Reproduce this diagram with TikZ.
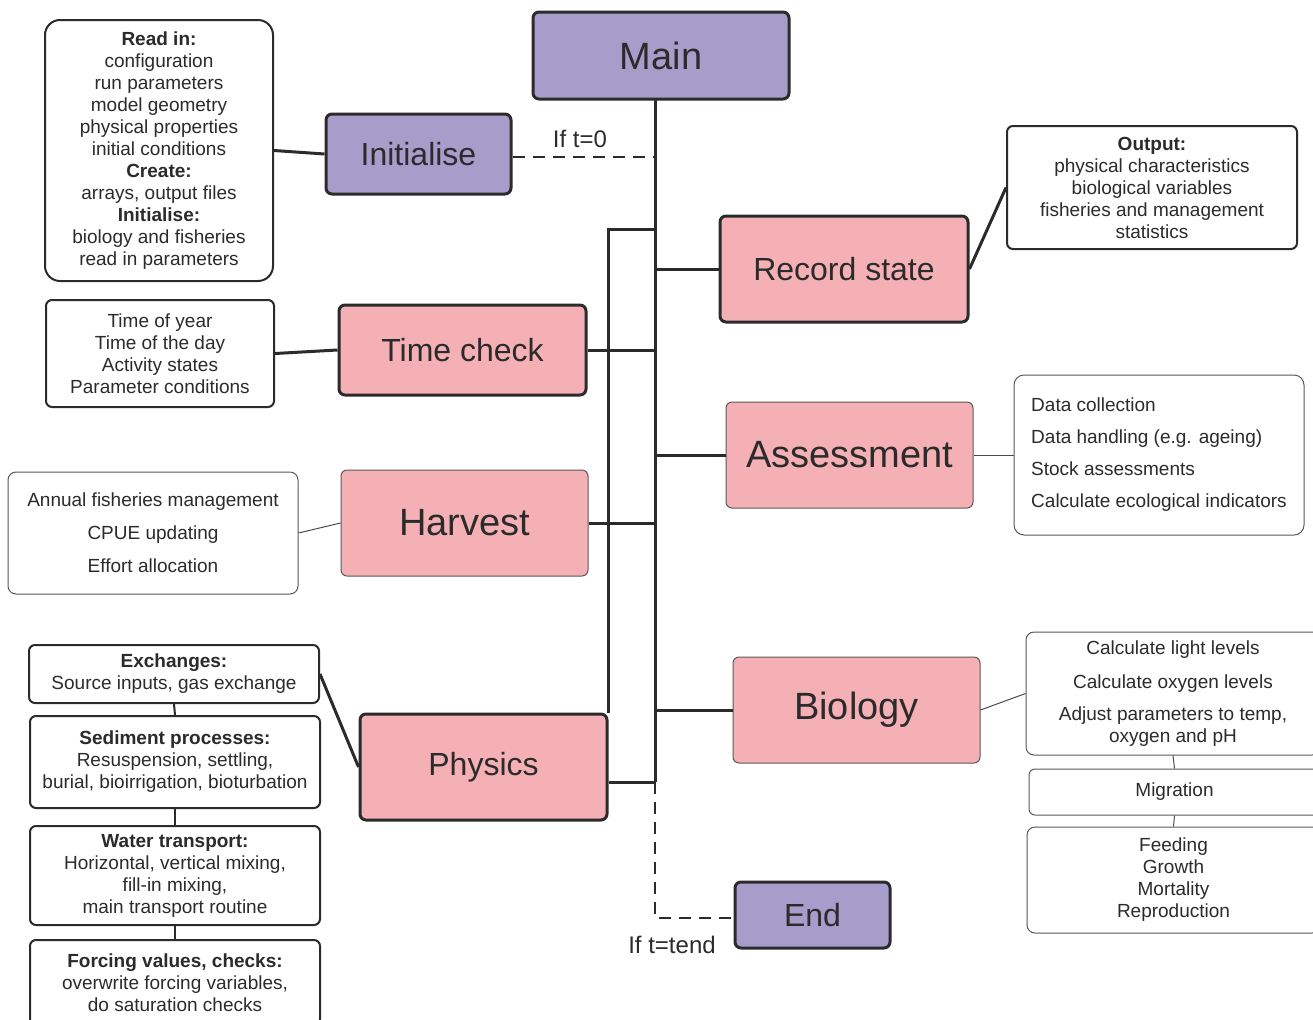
\documentclass[tikz,border=0pt]{standalone}
\usepackage{fontspec}
\setmainfont{Liberation Sans}
\usepackage{xcolor}
\usetikzlibrary{positioning,calc}

\definecolor{ctrlpurple}{HTML}{A79DCB}
\definecolor{procpink}{HTML}{F4B0B5}
\definecolor{inkgray}{HTML}{2B2B2B}

\begin{document}
\begin{tikzpicture}[
    x=0.5pt, y=-0.5pt,
    font=\fontsize{9.5}{11}\selectfont,
    text=inkgray,
    inner sep=2pt,
    ctrl/.style={
        draw=inkgray,
        line width=1.5pt,
        rounded corners=3pt,
        fill=ctrlpurple,
        align=center,
        font=\fontsize{16}{19}\selectfont
    },
    proc/.style={
        draw=inkgray,
        line width=1.5pt,
        rounded corners=3pt,
        fill=procpink,
        align=center,
        minimum width=123.5pt,
        font=\fontsize{16}{19}\selectfont
    },
    procthin/.style={
        draw=black!65,
        line width=0.5pt,
        rounded corners=3pt,
        fill=procpink,
        align=center,
        minimum width=123.5pt,
        minimum height=53pt,
        font=\fontsize{19}{22}\selectfont
    },
    info/.style={
        draw=inkgray,
        line width=1pt,
        rounded corners=3pt,
        fill=white,
        align=center
    },
    infothin/.style={
        draw=black!65,
        line width=0.5pt,
        rounded corners=4pt,
        fill=white,
        align=center
    },
    trunk/.style={draw=inkgray, line width=1.5pt},
    thinlink/.style={draw=black!70, line width=0.5pt},
    ifdash/.style={draw=inkgray, line width=1pt, dash pattern=on 6pt off 4pt},
    cond/.style={font=\fontsize{12}{14}\selectfont}
]
\path[use as bounding box, clip] (0,0) rectangle (1313,1019);

% control nodes
\node[ctrl, minimum width=128pt, minimum height=43.5pt,
      font=\fontsize{19}{22}\selectfont] (main) at (661,55.5) {Main};
\node[ctrl, minimum width=92.5pt, minimum height=40pt] (init) at (418.5,154) {Initialise};
\node[ctrl, minimum width=77.5pt, minimum height=33pt] (endn) at (812.5,915) {End};

% process nodes
\node[proc, minimum width=124pt, minimum height=53pt] (rec) at (844,269) {Record state};
\node[proc, minimum height=45pt] (tcheck) at (462.5,350) {Time check};
\node[procthin] (harv) at (464.5,523) {Harvest};
\node[procthin] (assess) at (849.5,455) {Assessment};
\node[procthin] (bio) at (856.5,710) {Biology};
\node[proc, minimum height=53pt] (phys) at (483.5,767) {Physics};

% trunk
\coordinate (ttop) at (655,99);
\coordinate (tbot) at (655,782);
\coordinate (loop) at (655,229);
\draw[trunk] (ttop) -- (tbot);
\draw[trunk] (loop) -| (phys.north east);
\draw[trunk] (ttop |- rec.west) -- (rec.west);
\draw[trunk] (tcheck.east) -- (tcheck.east -| ttop);
\draw[trunk] (harv.east) -- (harv.east -| ttop);
\draw[trunk] (ttop |- assess.west) -- (assess.west);
\draw[trunk] (ttop |- bio.west) -- (bio.west);
\draw[trunk] (phys.east |- tbot) -- (tbot);

% conditions
\coordinate (initout) at ([yshift=-1.5pt]init.east);
\coordinate (endin) at ([yshift=-1.5pt]endn.west);
\draw[ifdash] (initout) -- (initout -| ttop);
\node[cond] (ifstart) at (580,139) {If t=0};
\draw[ifdash] (tbot) |- (endin);
\node[cond] (ifend) at (672,945) {If t=tend};

% details
\node[info, rounded corners=7.5pt, minimum width=114pt, minimum height=130.5pt] (readin) at (159,150.5)
{{\bfseries Read in:}\\
configuration\\
run parameters\\
model geometry\\
physical properties\\
initial conditions\\
{\bfseries Create:}\\
arrays, output files\\
{\bfseries Initialise:}\\
biology and fisheries\\
read in parameters};

\node[info, minimum width=114pt, minimum height=53.5pt] (tyear) at (160,353.5)
{Time of year\\
Time of the day\\
Activity states\\
Parameter conditions};

\node[infothin, minimum width=145pt, minimum height=61pt] (harvinfo) at (153,533)
{Annual fisheries management\\[5.5pt]
CPUE updating\\[5.5pt]
Effort allocation};

\node[info, minimum width=145pt, minimum height=61.5pt] (output) at (1152,187.5)
{{\bfseries Output:}\\
physical characteristics\\
biological variables\\
fisheries and management\\
statistics};

\node[infothin, rounded corners=5pt, align=left, minimum width=145pt, minimum height=80pt] (assessinfo) at (1159,455)
{Data collection\\[5pt]
Data handling (e.g. ageing)\\[5pt]
Stock assessments\\[5pt]
Calculate ecological indicators};

\node[infothin, minimum width=147pt, minimum height=61.5pt] (light) at (1173,693.5)
{Calculate light levels\\[6pt]
Calculate oxygen levels\\[5pt]
Adjust parameters to temp,\\
oxygen and pH};
\node[infothin, rounded corners=3pt, minimum width=145.5pt, minimum height=23pt] (migr) at (1174.5,792) {Migration};
\node[infothin, minimum width=146.5pt, minimum height=53pt] (feed) at (1173.5,880)
{Feeding\\
Growth\\
Mortality\\
Reproduction};

\node[info, minimum width=145pt, minimum height=29pt] (exch) at (174,674)
{{\bfseries Exchanges:}\\
Source inputs, gas exchange};
\node[info, minimum width=145pt, minimum height=46pt] (sedim) at (175,762)
{{\bfseries Sediment processes:}\\
Resuspension, settling,\\
burial, bioirrigation, bioturbation};
\node[info, minimum width=145pt, minimum height=49.5pt] (water) at (175,875.5)
{{\bfseries Water transport:}\\
Horizontal, vertical mixing,\\
fill-in mixing,\\
main transport routine};
\node[info, minimum width=145pt, minimum height=42.5pt] (forcing) at (175,982.5)
{{\bfseries Forcing values, checks:}\\
overwrite forcing variables,\\
do saturation checks};

% links to details
\draw[trunk] (readin.east) -- (init.west);
\draw[trunk] (tyear.east) -- (tcheck.west);
\draw[trunk] (exch.east) -- (phys.west);
\draw[trunk] (rec.east) -- (output.west);
\draw[thinlink] (harvinfo.east) -- (harv.west);
\draw[thinlink] (assess.east) -- (assessinfo.west);
\draw[thinlink] (bio.east) -- (light.west);
\draw[thinlink] (light.south) -- (migr.north);
\draw[thinlink] (migr.south) -- (feed.north);
\draw[draw=inkgray, line width=1pt] (exch.south) -- (sedim.north);
\draw[draw=inkgray, line width=1pt] (sedim.south) -- (water.north);
\draw[draw=inkgray, line width=1pt] (water.south) -- (forcing.north);

\end{tikzpicture}
\end{document}
